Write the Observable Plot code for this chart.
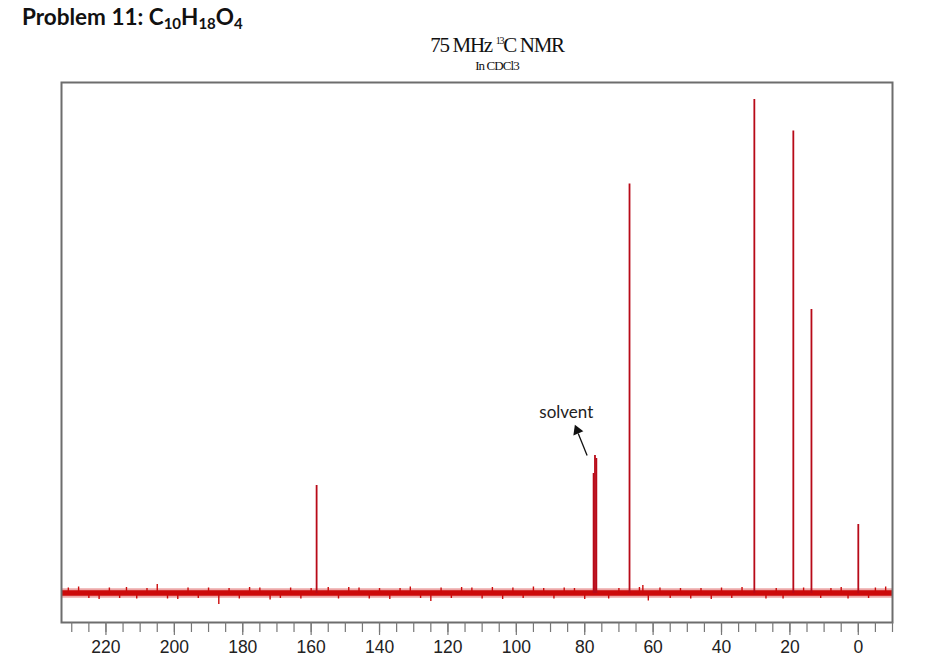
<!DOCTYPE html>
<html>
<head>
<meta charset="utf-8">
<script src="https://cdn.jsdelivr.net/npm/d3@7"></script>
<script src="https://cdn.jsdelivr.net/npm/@observablehq/plot@0.6"></script>
<style>
  body { margin: 0; background: #fff; width: 950px; height: 659px; position: relative; overflow: hidden; }
  #title { position: absolute; left: 22px; top: 3px; font-family: Lato, "Open Sans", sans-serif; font-weight: 700; font-size: 22.5px; color: #111; }
  #title sub { font-size: 15px; vertical-align: -4px; }
  #sub1 { position: absolute; left: 0; width: 994px; text-align: center; top: 33px; font-family: "Liberation Serif", "DejaVu Serif", serif; font-size: 21px; letter-spacing: -1.3px; color: #111; }
  #sub1 sup { font-size: 10px; vertical-align: 8px; }
  #sub2 { position: absolute; left: 0; width: 994px; text-align: center; top: 58px; font-family: "Liberation Serif", serif; font-size: 13px; letter-spacing: -0.9px; color: #111; }
  #chart { position: absolute; left: 0; top: 78px; }
</style>
</head>
<body>
<div id="title">Problem 11: C<sub>10</sub>H<sub>18</sub>O<sub>4</sub></div>
<div id="sub1">75 MHz <sup>13</sup>C NMR</div>
<div id="sub2">In CDCl3</div>
<div id="chart"></div>
<script>
// Peak positions (ppm) and heights (relative intensity)
const peakPpm    = [158.4, 77.4, 77.0, 76.6, 66.9, 30.4, 19.0, 13.7, 0.0];
const peakHeight = [21.6, 24.0, 27.6, 27.0, 81.9, 98.8, 92.5, 56.8, 13.8];

// Baseline noise band and visible noise spikes
const noiseCore = [-0.55, 0.55];
const noiseEdge = [-0.95, 0.95];
const spikePpm = [231, 228, 225, 222, 219, 216, 214, 211, 208, 205, 202, 199, 196, 193, 190, 187, 184, 181, 178, 175, 172, 169, 166, 163, 160, 155, 152, 149, 146, 143, 140, 137, 134, 131, 128, 125, 122, 119, 116, 113, 110, 107, 104, 101, 98, 95, 92, 89, 86, 83, 80, 73, 70, 64, 63, 61.4, 58, 55, 52, 49, 46, 43, 40, 37, 34, 27, 24, 22, 16, 11, 8, 5, 3, -3, -5, -8];
const spikeHeight = [1.1, 1.3, -1.0, -1.2, 1.1, -1.0, 1.2, -1.1, 1.0, 1.8, -1.1, -1.2, 1.1, -1.0, 1.1, -2.2, 1.0, -1.1, 1.2, 1.1, -1.3, -1.0, 1.1, -1.1, 1.0, 1.2, -1.1, 1.2, 1.1, -1.1, 1.0, -1.2, 1.0, 1.3, -1.0, -1.6, 1.1, -1.0, 1.2, 1.1, -1.1, 1.2, -1.2, 1.1, -1.0, 1.3, 1.0, -1.1, 1.1, 1.0, -1.2, -1.1, 1.0, 1.2, 1.6, -1.5, 1.1, -1.0, 1.0, -1.1, 1.0, -1.2, 1.1, -1.0, 1.2, -1.1, 1.0, -1.1, 1.1, -1.0, 1.0, 1.2, -1.1, -1.0, 1.1, 1.3];

// Axis ticks
const minorTicks = d3.range(230, -11, -5);
const majorTicks = [220, 200, 180, 160, 140, 120, 100, 80, 60, 40, 20, 0];

// Solvent annotation
const solventLabel = {ppm: 85.4, y: 36.2, text: "solvent"};
const solventArrow = {x1: 79.3, y1: 27.6, x2: 81.9, y2: 32.0};
const solventHead = {ppm: 82.2, y: 32.6};

const red = "#cc0a0a";
const peaks = peakPpm.map((p, i) => ({ppm: p, h: peakHeight[i]}));
const spikes = spikePpm.map((p, i) => ({ppm: p, h: spikeHeight[i]}));

const chart = Plot.plot({
  width: 950,
  height: 581,
  marginLeft: 61,
  marginRight: 58,
  marginTop: 4,
  marginBottom: 37,
  style: {fontFamily: "'Liberation Sans', Arial, sans-serif", background: "#fff"},
  x: {domain: [233, -10], axis: null},
  y: {domain: [-5.8, 102.2], axis: null},
  marks: [
    Plot.rect([{x1: 233, x2: -10, y1: noiseEdge[0], y2: noiseEdge[1]}], {x1: "x1", x2: "x2", y1: "y1", y2: "y2", fill: red, fillOpacity: 0.35}),
    Plot.rect([{x1: 233, x2: -10, y1: noiseCore[0], y2: noiseCore[1]}], {x1: "x1", x2: "x2", y1: "y1", y2: "y2", fill: red}),
    Plot.ruleX(spikes, {x: "ppm", y1: 0, y2: "h", stroke: red, strokeWidth: 1.4}),
    Plot.ruleX(peaks, {x: "ppm", y1: 0, y2: "h", stroke: "#b80a18", strokeWidth: 1.8}),
    Plot.frame({stroke: "#6d6d6d", strokeWidth: 2}),
    Plot.axisX({ticks: minorTicks, tickSize: 10, tickFormat: () => "", stroke: "#777", strokeWidth: 1.2}),
    Plot.axisX({ticks: majorTicks, tickSize: 13, tickPadding: 5, fontSize: 17.5, stroke: "#777", strokeWidth: 1.2, color: "#222", tickFormat: d => String(d)}),
    Plot.text([solventLabel], {x: "ppm", y: "y", text: "text", fontSize: 17, fontFamily: "Lato, 'Open Sans', sans-serif", fill: "#222"}),
    Plot.link([solventArrow], {x1: "x1", y1: "y1", x2: "x2", y2: "y2", stroke: "#111", strokeWidth: 1.3}),
    Plot.dot([solventHead], {x: "ppm", y: "y", symbol: "triangle", r: 4, fill: "#111", stroke: null, rotate: -22})
  ]
});
document.getElementById("chart").appendChild(chart);
</script>
</body>
</html>
